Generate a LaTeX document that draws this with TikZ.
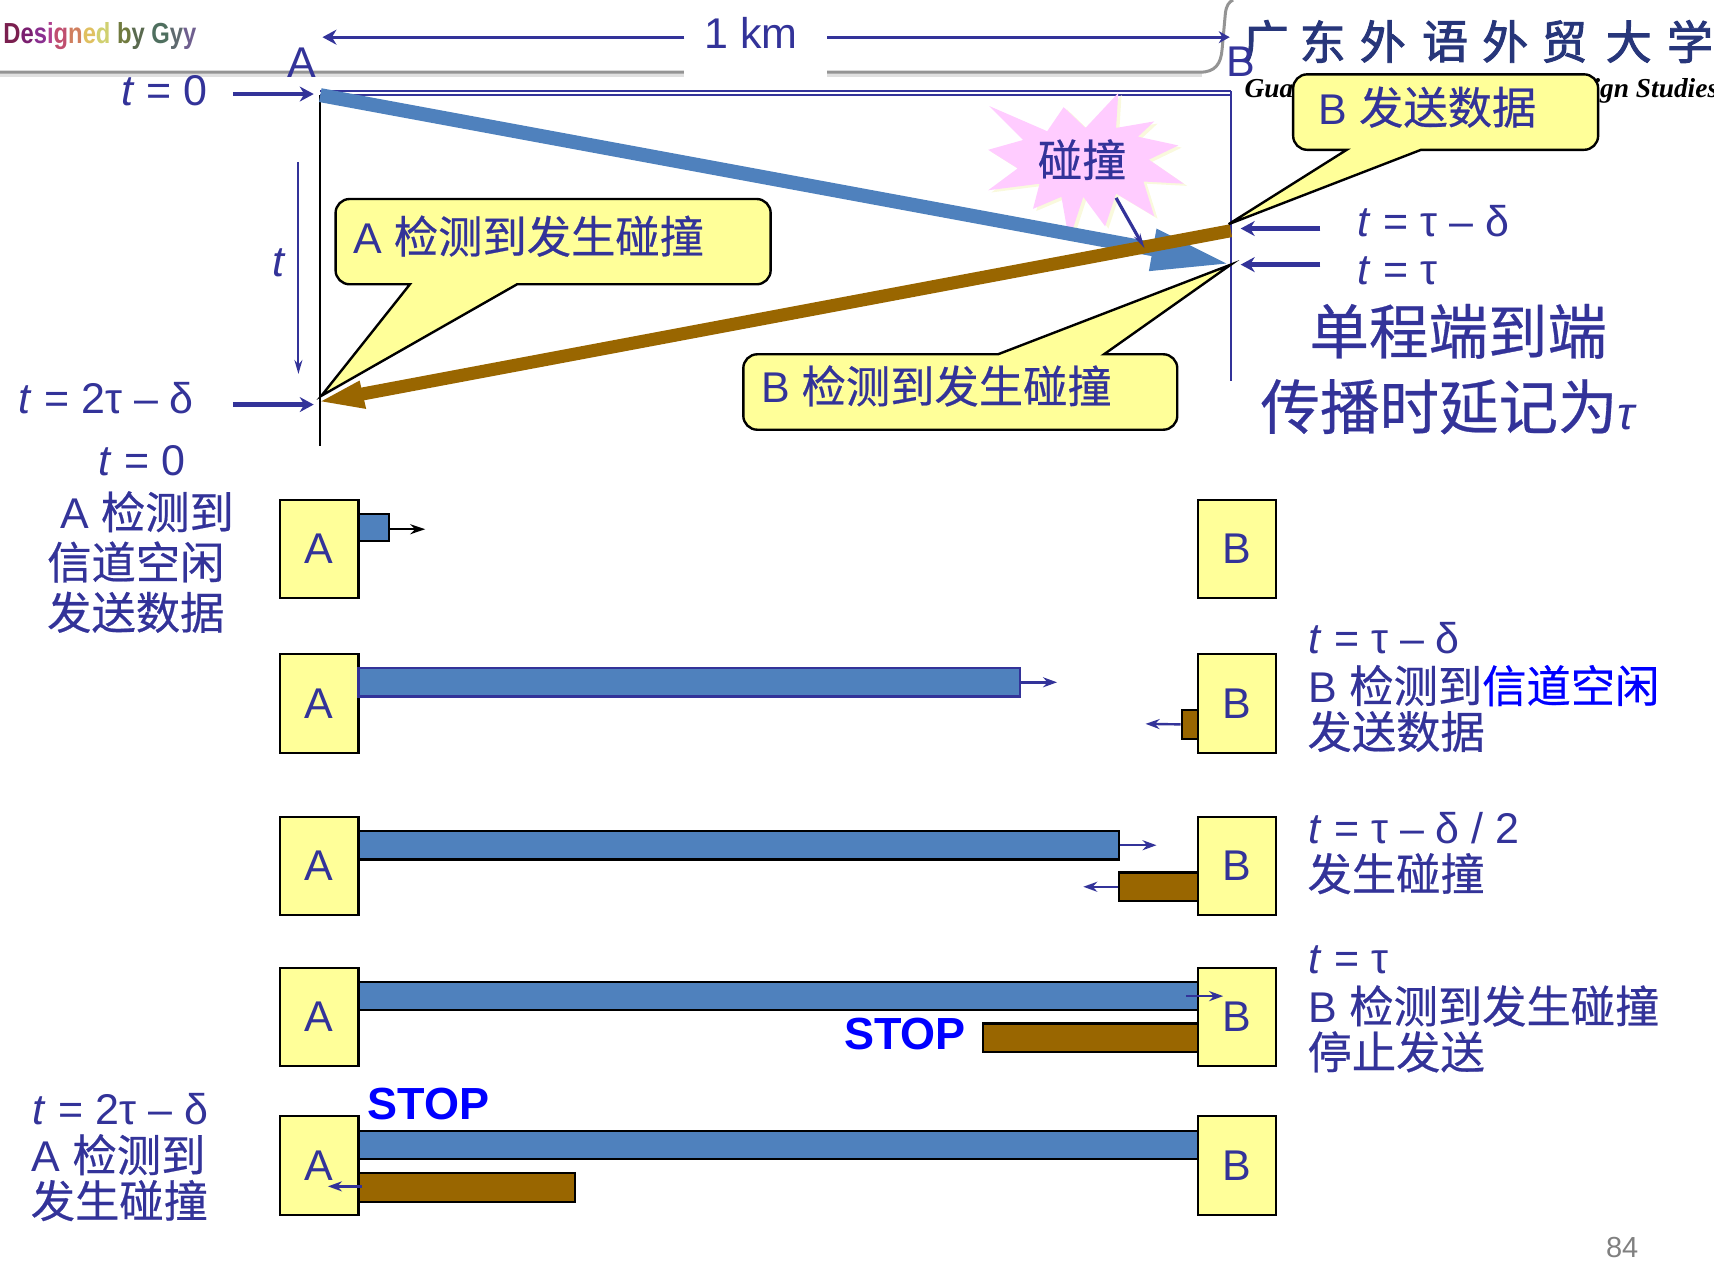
\documentclass[tikz,border=0pt]{standalone}
\usepackage{fontspec}
\setmainfont{Liberation Sans}
\newfontfamily\cjk[FakeBold=0.5]{Noto Sans CJK SC}
\newfontfamily\logocjk[FakeBold=2]{Noto Sans CJK SC}
\newfontfamily\gyyfont[FakeStretch=0.82]{Liberation Sans Bold}
\newfontfamily\enlogo{Liberation Serif Bold Italic}
\usetikzlibrary{arrows.meta,fit}
\definecolor{ink}{HTML}{333399}
\definecolor{wire}{HTML}{4F81BD}
\definecolor{brownbar}{HTML}{996600}
\definecolor{noteyellow}{HTML}{FFFF99}
\definecolor{burst}{HTML}{FFCCFF}
\definecolor{logoink}{HTML}{27367A}
\newcommand{\fs}[1]{\fontsize{#1}{#1}\selectfont}
\newcommand{\tv}{\textit{t}}
\newcommand{\cj}{\cjk\fs{44.3}}
\tikzset{
  txt/.style={inner sep=0pt,text=ink,anchor=west,font=\fs{43}},
  bigtxt/.style={txt,font=\fs{59.5}},
  stationbox/.style={draw=black,line width=2.2pt,fill=noteyellow,inner sep=0pt,text=ink,font=\fs{43}},
  bluebar/.style={draw=black,line width=2.2pt,fill=wire,inner sep=0pt},
  brownb/.style={draw=black,line width=2.2pt,fill=brownbar,inner sep=0pt},
  stoplabel/.style={inner sep=0pt,text=blue,font=\fs{45}\bfseries},
  thickarr/.style={draw=ink,line width=4.5pt,-{Stealth[length=14pt,width=15pt]}},
  smallarr/.style={draw=ink,line width=2.4pt,-{Stealth[length=14pt,width=10pt]}},
  blackarr/.style={draw=black,line width=2.4pt,-{Stealth[length=15pt,width=10pt]}},
  callout/.style={draw=black,line width=2.4pt,fill=noteyellow,line join=miter},
}
\begin{document}
\begin{tikzpicture}[x=1.0931pt,y=-1.0934pt]
\useasboundingbox (0,0) rectangle (1568,1156);
% header decoration
\draw[line width=5pt,black!12] (0,68) -- (1100,68);
\draw[line width=3pt,black!42] (0,66) -- (1098,66) .. controls (1112,66) and (1117,58) .. (1118,45) -- (1121,12) .. controls (1122,5) and (1124,2) .. (1128,0);
\fill[white] (626,50) rectangle (757,72);
\node[inner sep=0pt,anchor=west,font=\fs{29}\gyyfont] (gyy) at (3,33) {\textcolor[HTML]{7A1F4F}{D}\textcolor[HTML]{7A1F6F}{e}\textcolor[HTML]{8A2F8F}{s}\textcolor[HTML]{B03F8F}{i}\textcolor[HTML]{C04F6F}{g}\textcolor[HTML]{D07F5F}{n}\textcolor[HTML]{E0C060}{e}\textcolor[HTML]{D0D070}{d} \textcolor[HTML]{707A3F}{b}\textcolor[HTML]{5A6A4F}{y} \textcolor[HTML]{4F6F5F}{G}\textcolor[HTML]{5F6A6F}{y}\textcolor[HTML]{6F5F8F}{y}};
\foreach \nm/\cx/\ch in {l1/1158/广,l2/1210/东,l3/1265/外,l4/1322/语,l5/1377/外,l6/1431/贸,l7/1490/大,l8/1546/学}
  \node[inner sep=0pt,text=logoink,font=\fs{46}\logocjk] (\nm) at (\cx,38) {\ch};
\node[inner sep=0pt,anchor=east,font=\fs{27.4}\enlogo] (enlogo) at (1572,83) {Guangdong University of Foreign Studies};
% distance
\node[txt,anchor=center] (km) at (687,30) {1 km};
\coordinate (kmL) at (295,34);\coordinate (kmR) at (1125,34);
\coordinate (kmLs) at (626,34);\coordinate (kmRs) at (757,34);
\draw[thickarr,line width=3.2pt] (kmLs) -- (kmL);
\draw[thickarr,line width=3.2pt,-{Stealth[length=11pt,width=12pt]}] (kmRs) -- (kmR);
% space-time frame
\coordinate (aTop) at (293,87);\coordinate (aBot) at (293,408);
\coordinate (bTop) at (1126,83);\coordinate (bBot) at (1126,348);
\draw[ink,line width=1.8pt] (293,83) -- (bTop);
\draw[ink,line width=1.8pt] (aTop) -- (1126,87);
\draw[black,line width=1.6pt] (aTop) -- (aBot);
\draw[ink,line width=1.6pt] (bTop) -- (bBot);
\node[txt,anchor=center] (ltA) at (276,57) {A};
\node[txt,anchor=center] (ltB) at (1135,56) {B};
% burst
\fill[black!8!noteyellow!30] (1026,87) -- (996,119) -- (976,100) -- (961,122) -- (908,99) -- (939,130) -- (907,139) -- (934,156) -- (907,176) -- (954,170) -- (948,193) -- (974,182) -- (981,222) -- (994,182) -- (1014,209) -- (1024,179) -- (1059,200) -- (1049,168) -- (1086,170) -- (1054,148) -- (1081,135) -- (1044,127) -- (1059,113) -- (1024,119) -- cycle;
\fill[burst] (1023,85) -- (993,117) -- (973,98) -- (958,120) -- (905,97) -- (936,128) -- (904,137) -- (931,154) -- (904,174) -- (951,168) -- (945,191) -- (971,180) -- (978,220) -- (991,180) -- (1011,207) -- (1021,177) -- (1056,198) -- (1046,166) -- (1083,168) -- (1051,146) -- (1078,133) -- (1041,125) -- (1056,111) -- (1021,117) -- cycle;
\node[inner sep=0pt,text=ink,font=\cj] (hit) at (990,146) {碰撞};
% signals
\coordinate (blueS) at (293,87);\coordinate (blueE) at (1066,230);
\coordinate (brownS) at (1126,211);\coordinate (brownE) at (328,361);
\draw[wire,line width=14pt] (blueS) -- (blueE);
\fill[wire] (1058,209) -- (1122,241) -- (1051,248) -- cycle;
\draw[brownbar,line width=13pt] (brownS) -- (brownE);
\fill[brownbar] (329,348) -- (294,367) -- (335,374) -- cycle;
\coordinate (hitS) at (1021,181);\coordinate (hitE) at (1047,227);
\draw[ink,line width=3.2pt,-{Stealth[length=15pt,width=7pt]}] (hitS) -- (hitE);
% callouts
\draw[callout] (375,260) -- (294,362) -- (473,260) [rounded corners=14pt] -- (705,260) -- (705,182) -- (307,182) -- (307,260) [sharp corners] -- cycle;
\node[txt] (noteA) at (323,216) {A {\cj 检测到发生碰撞}};
\draw[callout] (1232,137) -- (1124,205) -- (1300,137) [rounded corners=14pt] -- (1462,137) -- (1462,68) -- (1183,68) -- (1183,137) [sharp corners] -- cycle;
\node[txt] (noteB) at (1206,98) {B {\cj 发送数据}};
\draw[callout] (913,324) -- (1126,242) -- (1010,324) [rounded corners=14pt] -- (1077,324) -- (1077,393) -- (680,393) -- (680,324) [sharp corners] -- cycle;
\node[txt] (noteC) at (696,353) {B {\cj 检测到发生碰撞}};
% time labels
\node[txt] (t0) at (111,83) {\tv{} = 0};
\coordinate (t0s) at (213,86);\coordinate (t0e) at (287,86);
\draw[thickarr] (t0s) -- (t0e);
\node[txt,anchor=center] (tt) at (255,240) {\tv};
\coordinate (tts) at (273,148);\coordinate (tte) at (273,342);
\draw[ink,line width=2pt,-{Stealth[length=14pt,width=8pt]}] (tts) -- (tte);
\node[txt] (t2) at (17,364) {\tv{} = 2τ – δ};
\coordinate (t2s) at (213,370);\coordinate (t2e) at (287,370);
\draw[thickarr] (t2s) -- (t2e);
\node[txt] (t3) at (1242,202) {\tv{} = τ – δ};
\coordinate (t3s) at (1208,209);\coordinate (t3e) at (1135,209);
\draw[thickarr] (t3s) -- (t3e);
\node[txt] (t4) at (1242,248) {\tv{} = τ};
\coordinate (t4s) at (1208,242);\coordinate (t4e) at (1135,242);
\draw[thickarr] (t4s) -- (t4e);
\node[bigtxt,anchor=center] (big1) at (1334,303) {\cjk 单程端到端};
\node[bigtxt] (big2) at (1153,372) {{\cjk 传播时延记为}{\fs{46}\textit{τ}}};
% left texts
\node[txt,anchor=center] (l1a) at (130,421) {\tv{} = 0};
\node[txt] (l1b) at (55,468) {A {\cj 检测到}};
\node[txt] (l1c) at (43,514) {\cj 信道空闲};
\node[txt] (l1d) at (43,560) {\cj 发送数据};
\node[txt] (l5a) at (30,1014) {\tv{} = 2τ – δ};
\node[txt] (l5b) at (29,1056) {A {\cj 检测到}};
\node[txt] (l5c) at (28,1098) {\cj 发生碰撞};
% stations
\foreach \r/\ya/\yb in {1/457/547,2/598/689,3/747/837,4/885/975,5/1021/1111}{
  \node[stationbox,fit={(256,\ya)(328,\yb)}] (A\r) {};
  \node[text=ink,font=\fs{43},inner sep=0pt] at (A\r) {A};
  \node[stationbox,fit={(1096,\ya)(1167,\yb)}] (B\r) {};
  \node[text=ink,font=\fs{43},inner sep=0pt] at (B\r) {B};
}
% row 1
\node[bluebar,fit={(328,470)(356,495)}] (r1b) {};
\coordinate (r1e) at (389,484);
\draw[blackarr] (356,484) -- (r1e);
% row 2
\node[bluebar,draw=ink,fit={(328,611)(933,637)}] (r2b) {};
\coordinate (r2e) at (967,624);
\draw[smallarr] (r2b.east) -- (r2e);
\node[brownb,fit={(1081,649)(1096,676)}] (r2r) {};
\coordinate (r2f) at (1048,662);
\draw[smallarr] (r2r.west) -- (r2f);
% row 3
\node[bluebar,fit={(328,760)(1024,786)}] (r3b) {};
\coordinate (r3e) at (1058,773);
\draw[smallarr] (r3b.east) -- (r3e);
\node[brownb,fit={(1024,798)(1096,824)}] (r3r) {};
\coordinate (r3f) at (991,811);
\draw[smallarr] (r3r.west) -- (r3f);
% row 4
\node[bluebar,fit={(328,898)(1096,924)}] (r4b) {};
\coordinate (r4s) at (1085,911);\coordinate (r4e) at (1119,911);
\draw[smallarr] (r4s) -- (r4e);
\node[brownb,fit={(899,936)(1096,962)}] (r4r) {};
\node[stoplabel] (stop1) at (828,946) {STOP};
% row 5
\node[bluebar,fit={(328,1034)(1096,1060)}] (r5b) {};
\node[brownb,fit={(328,1073)(526,1099)}] (r5r) {};
\coordinate (r5s) at (331,1085);\coordinate (r5e) at (300,1085);
\draw[smallarr] (r5s) -- (r5e);
\node[stoplabel] (stop2) at (392,1010) {STOP};
% right texts
\node[txt] (r2t1) at (1197,584) {\tv{} = τ – δ};
\node[txt] (r2t2) at (1197,627) {B {\cj 检测到\textcolor{blue}{信道空闲}}};
\node[txt] (r2t3) at (1196,669) {\cj 发送数据};
\node[txt] (r3t1) at (1197,757) {\tv{} = τ – δ / 2};
\node[txt] (r3t2) at (1196,799) {\cj 发生碰撞};
\node[txt] (r4t1) at (1197,878) {\tv{} = τ};
\node[txt] (r4t2) at (1197,920) {B {\cj 检测到发生碰撞}};
\node[txt] (r4t3) at (1196,962) {\cj 停止发送};
\node[inner sep=0pt,text=black!50,font=\fs{29}] (pg) at (1484,1141) {84};
\end{tikzpicture}
\end{document}
